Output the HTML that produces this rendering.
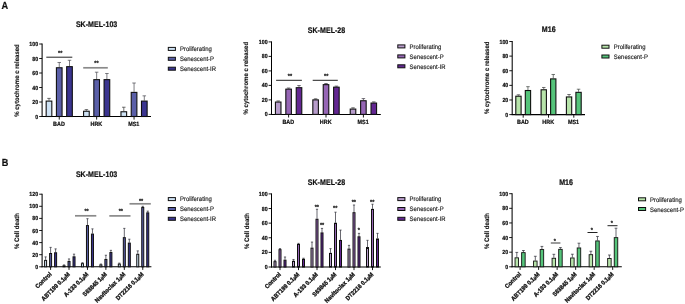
<!DOCTYPE html><html><head><meta charset="utf-8"><style>html,body{margin:0;padding:0;background:#fff}svg{display:block}text{font-family:"Liberation Sans",sans-serif;text-rendering:geometricPrecision}</style></head><body>
<svg width="685" height="304" viewBox="0 0 685 304">
<defs><filter id="bl" x="0" y="0" width="685" height="304" filterUnits="userSpaceOnUse"><feGaussianBlur stdDeviation="0.36"/></filter></defs>
<rect width="685" height="304" fill="#fff"/>
<g filter="url(#bl)">
<rect width="685" height="304" fill="#fff"/>
<text transform="translate(1.40 8.60) scale(0.05 0.0560)" font-size="184.0" font-weight="bold" text-anchor="start" fill="#111" stroke="#111" stroke-width="4.0">A</text>
<text transform="translate(1.80 166.00) scale(0.05 0.0560)" font-size="184.0" font-weight="bold" text-anchor="start" fill="#111" stroke="#111" stroke-width="4.0">B</text>
<line x1="42.10" y1="43.50" x2="42.10" y2="117.00" stroke="#000" stroke-width="1.05"/>
<line x1="41.60" y1="116.50" x2="151.00" y2="116.50" stroke="#000" stroke-width="1.05"/>
<line x1="39.20" y1="116.50" x2="42.10" y2="116.50" stroke="#000" stroke-width="0.9"/>
<text transform="translate(38.20 118.54) scale(0.05 0.0560)" font-size="106.0" font-weight="bold" text-anchor="end" fill="#111" stroke="#111" stroke-width="4.0">0</text>
<line x1="39.20" y1="102.00" x2="42.10" y2="102.00" stroke="#000" stroke-width="0.9"/>
<text transform="translate(38.20 104.04) scale(0.05 0.0560)" font-size="106.0" font-weight="bold" text-anchor="end" fill="#111" stroke="#111" stroke-width="4.0">20</text>
<line x1="39.20" y1="87.50" x2="42.10" y2="87.50" stroke="#000" stroke-width="0.9"/>
<text transform="translate(38.20 89.54) scale(0.05 0.0560)" font-size="106.0" font-weight="bold" text-anchor="end" fill="#111" stroke="#111" stroke-width="4.0">40</text>
<line x1="39.20" y1="73.00" x2="42.10" y2="73.00" stroke="#000" stroke-width="0.9"/>
<text transform="translate(38.20 75.04) scale(0.05 0.0560)" font-size="106.0" font-weight="bold" text-anchor="end" fill="#111" stroke="#111" stroke-width="4.0">60</text>
<line x1="39.20" y1="58.50" x2="42.10" y2="58.50" stroke="#000" stroke-width="0.9"/>
<text transform="translate(38.20 60.54) scale(0.05 0.0560)" font-size="106.0" font-weight="bold" text-anchor="end" fill="#111" stroke="#111" stroke-width="4.0">80</text>
<line x1="39.20" y1="44.00" x2="42.10" y2="44.00" stroke="#000" stroke-width="0.9"/>
<text transform="translate(38.20 46.04) scale(0.05 0.0560)" font-size="106.0" font-weight="bold" text-anchor="end" fill="#111" stroke="#111" stroke-width="4.0">100</text>
<line x1="49.00" y1="100.55" x2="49.00" y2="98.38" stroke="#333" stroke-width="0.7"/>
<line x1="47.25" y1="98.38" x2="50.75" y2="98.38" stroke="#333" stroke-width="0.7"/>
<rect x="46.17" y="101.10" width="5.65" height="15.40" fill="#cfe3f5" stroke="#111" stroke-width="1.1"/>
<line x1="59.25" y1="67.20" x2="59.25" y2="62.49" stroke="#46464e" stroke-width="0.7"/>
<line x1="57.50" y1="62.49" x2="61.00" y2="62.49" stroke="#46464e" stroke-width="0.7"/>
<rect x="56.42" y="67.75" width="5.65" height="48.75" fill="#5a5fa8" stroke="#111" stroke-width="1.1"/>
<line x1="69.50" y1="66.11" x2="69.50" y2="60.31" stroke="#46464e" stroke-width="0.7"/>
<line x1="67.75" y1="60.31" x2="71.25" y2="60.31" stroke="#46464e" stroke-width="0.7"/>
<rect x="66.67" y="66.66" width="5.65" height="49.84" fill="#3a3590" stroke="#111" stroke-width="1.1"/>
<line x1="59.25" y1="116.50" x2="59.25" y2="119.60" stroke="#000" stroke-width="0.9"/>
<text transform="translate(58.95 126.00) scale(0.05 0.0560)" font-size="109.0" font-weight="bold" text-anchor="middle" fill="#111" stroke="#111" stroke-width="4.0">BAD</text>
<line x1="86.40" y1="110.70" x2="86.40" y2="109.61" stroke="#333" stroke-width="0.7"/>
<line x1="84.65" y1="109.61" x2="88.15" y2="109.61" stroke="#333" stroke-width="0.7"/>
<rect x="83.58" y="111.25" width="5.65" height="5.25" fill="#cfe3f5" stroke="#111" stroke-width="1.1"/>
<line x1="96.65" y1="79.09" x2="96.65" y2="72.20" stroke="#46464e" stroke-width="0.7"/>
<line x1="94.90" y1="72.20" x2="98.40" y2="72.20" stroke="#46464e" stroke-width="0.7"/>
<rect x="93.83" y="79.64" width="5.65" height="36.86" fill="#5a5fa8" stroke="#111" stroke-width="1.1"/>
<line x1="106.90" y1="79.09" x2="106.90" y2="73.51" stroke="#46464e" stroke-width="0.7"/>
<line x1="105.15" y1="73.51" x2="108.65" y2="73.51" stroke="#46464e" stroke-width="0.7"/>
<rect x="104.08" y="79.64" width="5.65" height="36.86" fill="#3a3590" stroke="#111" stroke-width="1.1"/>
<line x1="96.65" y1="116.50" x2="96.65" y2="119.60" stroke="#000" stroke-width="0.9"/>
<text transform="translate(96.35 126.00) scale(0.05 0.0560)" font-size="109.0" font-weight="bold" text-anchor="middle" fill="#111" stroke="#111" stroke-width="4.0">HRK</text>
<line x1="123.80" y1="111.21" x2="123.80" y2="107.22" stroke="#333" stroke-width="0.7"/>
<line x1="122.05" y1="107.22" x2="125.55" y2="107.22" stroke="#333" stroke-width="0.7"/>
<rect x="120.98" y="111.76" width="5.65" height="4.74" fill="#cfe3f5" stroke="#111" stroke-width="1.1"/>
<line x1="134.05" y1="91.85" x2="134.05" y2="83.00" stroke="#46464e" stroke-width="0.7"/>
<line x1="132.30" y1="83.00" x2="135.80" y2="83.00" stroke="#46464e" stroke-width="0.7"/>
<rect x="131.23" y="92.40" width="5.65" height="24.10" fill="#5a5fa8" stroke="#111" stroke-width="1.1"/>
<line x1="144.30" y1="100.55" x2="144.30" y2="95.84" stroke="#46464e" stroke-width="0.7"/>
<line x1="142.55" y1="95.84" x2="146.05" y2="95.84" stroke="#46464e" stroke-width="0.7"/>
<rect x="141.48" y="101.10" width="5.65" height="15.40" fill="#3a3590" stroke="#111" stroke-width="1.1"/>
<line x1="134.05" y1="116.50" x2="134.05" y2="119.60" stroke="#000" stroke-width="0.9"/>
<text transform="translate(133.75 126.00) scale(0.05 0.0560)" font-size="109.0" font-weight="bold" text-anchor="middle" fill="#111" stroke="#111" stroke-width="4.0">MS1</text>
<text transform="translate(96.60 26.60) scale(0.05 0.0575)" font-size="142.0" font-weight="bold" text-anchor="middle" fill="#111" stroke="#111" stroke-width="4.0">SK-MEL-103</text>
<text transform="translate(19.20 80.50) rotate(-90) scale(0.05 0.0540)" font-size="121.0" font-weight="bold" text-anchor="middle" fill="#111" stroke="#111" stroke-width="2.4">% cytochrome c released</text>
<line x1="46.30" y1="57.20" x2="72.30" y2="57.20" stroke="#222" stroke-width="1.0"/>
<text transform="translate(60.20 54.80) scale(0.05 0.0560)" font-size="110.0" font-weight="bold" text-anchor="middle" fill="#222" stroke="#222" stroke-width="4.0">**</text>
<line x1="83.20" y1="67.80" x2="107.80" y2="67.80" stroke="#8a8a8a" stroke-width="1.7"/>
<text transform="translate(96.40 65.40) scale(0.05 0.0560)" font-size="110.0" font-weight="bold" text-anchor="middle" fill="#222" stroke="#222" stroke-width="4.0">**</text>
<rect x="168.30" y="47.40" width="7.10" height="3.00" fill="#cfe3f5" stroke="#111" stroke-width="1.0"/>
<text transform="translate(180.00 51.49) scale(0.05 0.0550)" font-size="119.0" font-weight="normal" text-anchor="start" fill="#1a1a1a" stroke="#1a1a1a" stroke-width="2.8">Proliferating</text>
<rect x="168.30" y="57.30" width="7.10" height="3.00" fill="#5a5fa8" stroke="#111" stroke-width="1.0"/>
<text transform="translate(180.00 61.39) scale(0.05 0.0550)" font-size="119.0" font-weight="normal" text-anchor="start" fill="#1a1a1a" stroke="#1a1a1a" stroke-width="2.8">Senescent-P</text>
<rect x="168.30" y="67.20" width="7.10" height="3.00" fill="#3a3590" stroke="#111" stroke-width="1.0"/>
<text transform="translate(180.00 71.29) scale(0.05 0.0550)" font-size="119.0" font-weight="normal" text-anchor="start" fill="#1a1a1a" stroke="#1a1a1a" stroke-width="2.8">Senescent-IR</text>
<line x1="271.50" y1="41.40" x2="271.50" y2="114.90" stroke="#000" stroke-width="1.05"/>
<line x1="271.00" y1="114.40" x2="380.80" y2="114.40" stroke="#000" stroke-width="1.05"/>
<line x1="268.60" y1="114.40" x2="271.50" y2="114.40" stroke="#000" stroke-width="0.9"/>
<text transform="translate(267.60 116.44) scale(0.05 0.0560)" font-size="106.0" font-weight="bold" text-anchor="end" fill="#111" stroke="#111" stroke-width="4.0">0</text>
<line x1="268.60" y1="99.90" x2="271.50" y2="99.90" stroke="#000" stroke-width="0.9"/>
<text transform="translate(267.60 101.94) scale(0.05 0.0560)" font-size="106.0" font-weight="bold" text-anchor="end" fill="#111" stroke="#111" stroke-width="4.0">20</text>
<line x1="268.60" y1="85.40" x2="271.50" y2="85.40" stroke="#000" stroke-width="0.9"/>
<text transform="translate(267.60 87.44) scale(0.05 0.0560)" font-size="106.0" font-weight="bold" text-anchor="end" fill="#111" stroke="#111" stroke-width="4.0">40</text>
<line x1="268.60" y1="70.90" x2="271.50" y2="70.90" stroke="#000" stroke-width="0.9"/>
<text transform="translate(267.60 72.94) scale(0.05 0.0560)" font-size="106.0" font-weight="bold" text-anchor="end" fill="#111" stroke="#111" stroke-width="4.0">60</text>
<line x1="268.60" y1="56.40" x2="271.50" y2="56.40" stroke="#000" stroke-width="0.9"/>
<text transform="translate(267.60 58.44) scale(0.05 0.0560)" font-size="106.0" font-weight="bold" text-anchor="end" fill="#111" stroke="#111" stroke-width="4.0">80</text>
<line x1="268.60" y1="41.90" x2="271.50" y2="41.90" stroke="#000" stroke-width="0.9"/>
<text transform="translate(267.60 43.94) scale(0.05 0.0560)" font-size="106.0" font-weight="bold" text-anchor="end" fill="#111" stroke="#111" stroke-width="4.0">100</text>
<line x1="278.20" y1="101.50" x2="278.20" y2="100.92" stroke="#333" stroke-width="0.7"/>
<line x1="276.45" y1="100.92" x2="279.95" y2="100.92" stroke="#333" stroke-width="0.7"/>
<rect x="275.43" y="102.05" width="5.55" height="12.36" fill="#b79ccb" stroke="#111" stroke-width="1.1"/>
<line x1="288.60" y1="88.59" x2="288.60" y2="88.01" stroke="#3a3440" stroke-width="0.7"/>
<line x1="286.85" y1="88.01" x2="290.35" y2="88.01" stroke="#3a3440" stroke-width="0.7"/>
<rect x="285.83" y="89.14" width="5.55" height="25.26" fill="#9666b5" stroke="#111" stroke-width="1.1"/>
<line x1="299.00" y1="87.14" x2="299.00" y2="85.55" stroke="#3a3440" stroke-width="0.7"/>
<line x1="297.25" y1="85.55" x2="300.75" y2="85.55" stroke="#3a3440" stroke-width="0.7"/>
<rect x="296.23" y="87.69" width="5.55" height="26.71" fill="#632792" stroke="#111" stroke-width="1.1"/>
<line x1="288.60" y1="114.40" x2="288.60" y2="117.50" stroke="#000" stroke-width="0.9"/>
<text transform="translate(288.30 123.70) scale(0.05 0.0560)" font-size="109.0" font-weight="bold" text-anchor="middle" fill="#111" stroke="#111" stroke-width="4.0">BAD</text>
<line x1="315.60" y1="99.32" x2="315.60" y2="98.81" stroke="#333" stroke-width="0.7"/>
<line x1="313.85" y1="98.81" x2="317.35" y2="98.81" stroke="#333" stroke-width="0.7"/>
<rect x="312.83" y="99.87" width="5.55" height="14.53" fill="#b79ccb" stroke="#111" stroke-width="1.1"/>
<line x1="326.00" y1="84.10" x2="326.00" y2="83.52" stroke="#3a3440" stroke-width="0.7"/>
<line x1="324.25" y1="83.52" x2="327.75" y2="83.52" stroke="#3a3440" stroke-width="0.7"/>
<rect x="323.23" y="84.65" width="5.55" height="29.75" fill="#9666b5" stroke="#111" stroke-width="1.1"/>
<line x1="336.40" y1="86.63" x2="336.40" y2="86.12" stroke="#3a3440" stroke-width="0.7"/>
<line x1="334.65" y1="86.12" x2="338.15" y2="86.12" stroke="#3a3440" stroke-width="0.7"/>
<rect x="333.62" y="87.18" width="5.55" height="27.22" fill="#632792" stroke="#111" stroke-width="1.1"/>
<line x1="326.00" y1="114.40" x2="326.00" y2="117.50" stroke="#000" stroke-width="0.9"/>
<text transform="translate(325.70 123.70) scale(0.05 0.0560)" font-size="109.0" font-weight="bold" text-anchor="middle" fill="#111" stroke="#111" stroke-width="4.0">HRK</text>
<line x1="353.00" y1="108.53" x2="353.00" y2="107.80" stroke="#333" stroke-width="0.7"/>
<line x1="351.25" y1="107.80" x2="354.75" y2="107.80" stroke="#333" stroke-width="0.7"/>
<rect x="350.23" y="109.08" width="5.55" height="5.32" fill="#b79ccb" stroke="#111" stroke-width="1.1"/>
<line x1="363.40" y1="100.19" x2="363.40" y2="98.59" stroke="#3a3440" stroke-width="0.7"/>
<line x1="361.65" y1="98.59" x2="365.15" y2="98.59" stroke="#3a3440" stroke-width="0.7"/>
<rect x="360.62" y="100.74" width="5.55" height="13.66" fill="#9666b5" stroke="#111" stroke-width="1.1"/>
<line x1="373.80" y1="102.51" x2="373.80" y2="101.86" stroke="#3a3440" stroke-width="0.7"/>
<line x1="372.05" y1="101.86" x2="375.55" y2="101.86" stroke="#3a3440" stroke-width="0.7"/>
<rect x="371.02" y="103.06" width="5.55" height="11.34" fill="#632792" stroke="#111" stroke-width="1.1"/>
<line x1="363.40" y1="114.40" x2="363.40" y2="117.50" stroke="#000" stroke-width="0.9"/>
<text transform="translate(363.10 123.70) scale(0.05 0.0560)" font-size="109.0" font-weight="bold" text-anchor="middle" fill="#111" stroke="#111" stroke-width="4.0">MS1</text>
<text transform="translate(326.50 32.70) scale(0.05 0.0575)" font-size="142.0" font-weight="bold" text-anchor="middle" fill="#111" stroke="#111" stroke-width="4.0">SK-MEL-28</text>
<text transform="translate(248.20 78.20) rotate(-90) scale(0.05 0.0540)" font-size="121.0" font-weight="bold" text-anchor="middle" fill="#111" stroke="#111" stroke-width="2.4">% cytochrome c released</text>
<line x1="276.10" y1="80.30" x2="301.90" y2="80.30" stroke="#222" stroke-width="1.0"/>
<text transform="translate(289.90 77.90) scale(0.05 0.0560)" font-size="110.0" font-weight="bold" text-anchor="middle" fill="#222" stroke="#222" stroke-width="4.0">**</text>
<line x1="312.70" y1="80.30" x2="337.80" y2="80.30" stroke="#222" stroke-width="1.0"/>
<text transform="translate(326.15 77.90) scale(0.05 0.0560)" font-size="110.0" font-weight="bold" text-anchor="middle" fill="#222" stroke="#222" stroke-width="4.0">**</text>
<rect x="397.80" y="44.90" width="7.10" height="3.00" fill="#b79ccb" stroke="#111" stroke-width="1.0"/>
<text transform="translate(409.60 48.99) scale(0.05 0.0550)" font-size="119.0" font-weight="normal" text-anchor="start" fill="#1a1a1a" stroke="#1a1a1a" stroke-width="2.8">Proliferating</text>
<rect x="397.80" y="54.90" width="7.10" height="3.00" fill="#9666b5" stroke="#111" stroke-width="1.0"/>
<text transform="translate(409.60 58.99) scale(0.05 0.0550)" font-size="119.0" font-weight="normal" text-anchor="start" fill="#1a1a1a" stroke="#1a1a1a" stroke-width="2.8">Senescent-P</text>
<rect x="397.80" y="64.80" width="7.10" height="3.00" fill="#632792" stroke="#111" stroke-width="1.0"/>
<text transform="translate(409.60 68.89) scale(0.05 0.0550)" font-size="119.0" font-weight="normal" text-anchor="start" fill="#1a1a1a" stroke="#1a1a1a" stroke-width="2.8">Senescent-IR</text>
<line x1="512.20" y1="41.00" x2="512.20" y2="115.10" stroke="#000" stroke-width="1.05"/>
<line x1="511.70" y1="114.60" x2="585.00" y2="114.60" stroke="#000" stroke-width="1.05"/>
<line x1="509.30" y1="114.60" x2="512.20" y2="114.60" stroke="#000" stroke-width="0.9"/>
<text transform="translate(508.30 116.64) scale(0.05 0.0560)" font-size="106.0" font-weight="bold" text-anchor="end" fill="#111" stroke="#111" stroke-width="4.0">0</text>
<line x1="509.30" y1="99.98" x2="512.20" y2="99.98" stroke="#000" stroke-width="0.9"/>
<text transform="translate(508.30 102.02) scale(0.05 0.0560)" font-size="106.0" font-weight="bold" text-anchor="end" fill="#111" stroke="#111" stroke-width="4.0">20</text>
<line x1="509.30" y1="85.36" x2="512.20" y2="85.36" stroke="#000" stroke-width="0.9"/>
<text transform="translate(508.30 87.40) scale(0.05 0.0560)" font-size="106.0" font-weight="bold" text-anchor="end" fill="#111" stroke="#111" stroke-width="4.0">40</text>
<line x1="509.30" y1="70.74" x2="512.20" y2="70.74" stroke="#000" stroke-width="0.9"/>
<text transform="translate(508.30 72.78) scale(0.05 0.0560)" font-size="106.0" font-weight="bold" text-anchor="end" fill="#111" stroke="#111" stroke-width="4.0">60</text>
<line x1="509.30" y1="56.12" x2="512.20" y2="56.12" stroke="#000" stroke-width="0.9"/>
<text transform="translate(508.30 58.16) scale(0.05 0.0560)" font-size="106.0" font-weight="bold" text-anchor="end" fill="#111" stroke="#111" stroke-width="4.0">80</text>
<line x1="509.30" y1="41.50" x2="512.20" y2="41.50" stroke="#000" stroke-width="0.9"/>
<text transform="translate(508.30 43.54) scale(0.05 0.0560)" font-size="106.0" font-weight="bold" text-anchor="end" fill="#111" stroke="#111" stroke-width="4.0">100</text>
<line x1="518.45" y1="95.67" x2="518.45" y2="94.79" stroke="#3a3a3a" stroke-width="0.7"/>
<line x1="516.70" y1="94.79" x2="520.20" y2="94.79" stroke="#3a3a3a" stroke-width="0.7"/>
<rect x="515.80" y="96.22" width="5.30" height="18.38" fill="#b7e4aa" stroke="#111" stroke-width="1.1"/>
<line x1="527.95" y1="89.97" x2="527.95" y2="86.68" stroke="#3a403c" stroke-width="0.7"/>
<line x1="526.20" y1="86.68" x2="529.70" y2="86.68" stroke="#3a403c" stroke-width="0.7"/>
<rect x="525.30" y="90.52" width="5.30" height="24.08" fill="#55c47a" stroke="#111" stroke-width="1.1"/>
<line x1="523.20" y1="114.60" x2="523.20" y2="117.70" stroke="#000" stroke-width="0.9"/>
<text transform="translate(522.90 123.60) scale(0.05 0.0560)" font-size="109.0" font-weight="bold" text-anchor="middle" fill="#111" stroke="#111" stroke-width="4.0">BAD</text>
<line x1="543.75" y1="89.23" x2="543.75" y2="87.48" stroke="#3a3a3a" stroke-width="0.7"/>
<line x1="542.00" y1="87.48" x2="545.50" y2="87.48" stroke="#3a3a3a" stroke-width="0.7"/>
<rect x="541.10" y="89.78" width="5.30" height="24.82" fill="#b7e4aa" stroke="#111" stroke-width="1.1"/>
<line x1="553.25" y1="78.34" x2="553.25" y2="74.47" stroke="#3a403c" stroke-width="0.7"/>
<line x1="551.50" y1="74.47" x2="555.00" y2="74.47" stroke="#3a403c" stroke-width="0.7"/>
<rect x="550.60" y="78.89" width="5.30" height="35.71" fill="#55c47a" stroke="#111" stroke-width="1.1"/>
<line x1="548.50" y1="114.60" x2="548.50" y2="117.70" stroke="#000" stroke-width="0.9"/>
<text transform="translate(548.20 123.60) scale(0.05 0.0560)" font-size="109.0" font-weight="bold" text-anchor="middle" fill="#111" stroke="#111" stroke-width="4.0">HRK</text>
<line x1="569.05" y1="96.40" x2="569.05" y2="94.50" stroke="#3a3a3a" stroke-width="0.7"/>
<line x1="567.30" y1="94.50" x2="570.80" y2="94.50" stroke="#3a3a3a" stroke-width="0.7"/>
<rect x="566.40" y="96.95" width="5.30" height="17.65" fill="#b7e4aa" stroke="#111" stroke-width="1.1"/>
<line x1="578.55" y1="91.79" x2="578.55" y2="89.23" stroke="#3a403c" stroke-width="0.7"/>
<line x1="576.80" y1="89.23" x2="580.30" y2="89.23" stroke="#3a403c" stroke-width="0.7"/>
<rect x="575.90" y="92.34" width="5.30" height="22.26" fill="#55c47a" stroke="#111" stroke-width="1.1"/>
<line x1="573.80" y1="114.60" x2="573.80" y2="117.70" stroke="#000" stroke-width="0.9"/>
<text transform="translate(573.50 123.60) scale(0.05 0.0560)" font-size="109.0" font-weight="bold" text-anchor="middle" fill="#111" stroke="#111" stroke-width="4.0">MS1</text>
<text transform="translate(548.70 32.20) scale(0.05 0.0575)" font-size="142.0" font-weight="bold" text-anchor="middle" fill="#111" stroke="#111" stroke-width="4.0">M16</text>
<text transform="translate(488.80 77.80) rotate(-90) scale(0.05 0.0540)" font-size="121.0" font-weight="bold" text-anchor="middle" fill="#111" stroke="#111" stroke-width="2.4">% cytochrome c released</text>
<rect x="601.90" y="45.20" width="7.10" height="3.00" fill="#b7e4aa" stroke="#111" stroke-width="1.0"/>
<text transform="translate(613.80 48.99) scale(0.05 0.0550)" font-size="119.0" font-weight="normal" text-anchor="start" fill="#1a1a1a" stroke="#1a1a1a" stroke-width="2.8">Proliferating</text>
<rect x="601.90" y="55.00" width="7.10" height="3.00" fill="#55c47a" stroke="#111" stroke-width="1.0"/>
<text transform="translate(613.80 58.79) scale(0.05 0.0550)" font-size="119.0" font-weight="normal" text-anchor="start" fill="#1a1a1a" stroke="#1a1a1a" stroke-width="2.8">Senescent-P</text>
<line x1="42.10" y1="193.70" x2="42.10" y2="267.30" stroke="#000" stroke-width="1.05"/>
<line x1="41.60" y1="266.80" x2="151.40" y2="266.80" stroke="#000" stroke-width="1.05"/>
<line x1="39.20" y1="266.80" x2="42.10" y2="266.80" stroke="#000" stroke-width="0.9"/>
<text transform="translate(38.20 268.84) scale(0.05 0.0560)" font-size="106.0" font-weight="bold" text-anchor="end" fill="#111" stroke="#111" stroke-width="4.0">0</text>
<line x1="39.20" y1="254.70" x2="42.10" y2="254.70" stroke="#000" stroke-width="0.9"/>
<text transform="translate(38.20 256.74) scale(0.05 0.0560)" font-size="106.0" font-weight="bold" text-anchor="end" fill="#111" stroke="#111" stroke-width="4.0">20</text>
<line x1="39.20" y1="242.60" x2="42.10" y2="242.60" stroke="#000" stroke-width="0.9"/>
<text transform="translate(38.20 244.64) scale(0.05 0.0560)" font-size="106.0" font-weight="bold" text-anchor="end" fill="#111" stroke="#111" stroke-width="4.0">40</text>
<line x1="39.20" y1="230.50" x2="42.10" y2="230.50" stroke="#000" stroke-width="0.9"/>
<text transform="translate(38.20 232.54) scale(0.05 0.0560)" font-size="106.0" font-weight="bold" text-anchor="end" fill="#111" stroke="#111" stroke-width="4.0">60</text>
<line x1="39.20" y1="218.40" x2="42.10" y2="218.40" stroke="#000" stroke-width="0.9"/>
<text transform="translate(38.20 220.44) scale(0.05 0.0560)" font-size="106.0" font-weight="bold" text-anchor="end" fill="#111" stroke="#111" stroke-width="4.0">80</text>
<line x1="39.20" y1="206.30" x2="42.10" y2="206.30" stroke="#000" stroke-width="0.9"/>
<text transform="translate(38.20 208.34) scale(0.05 0.0560)" font-size="106.0" font-weight="bold" text-anchor="end" fill="#111" stroke="#111" stroke-width="4.0">100</text>
<line x1="39.20" y1="194.20" x2="42.10" y2="194.20" stroke="#000" stroke-width="0.9"/>
<text transform="translate(38.20 196.24) scale(0.05 0.0560)" font-size="106.0" font-weight="bold" text-anchor="end" fill="#111" stroke="#111" stroke-width="4.0">120</text>
<line x1="45.60" y1="259.90" x2="45.60" y2="256.88" stroke="#2a2a34" stroke-width="0.7"/>
<line x1="44.50" y1="256.88" x2="46.70" y2="256.88" stroke="#2a2a34" stroke-width="0.7"/>
<rect x="44.60" y="260.40" width="2.00" height="6.40" fill="#cfe3f5" stroke="#111" stroke-width="1.0"/>
<line x1="50.60" y1="253.01" x2="50.60" y2="247.38" stroke="#2a2a34" stroke-width="0.7"/>
<line x1="49.50" y1="247.38" x2="51.70" y2="247.38" stroke="#2a2a34" stroke-width="0.7"/>
<rect x="49.60" y="253.51" width="2.00" height="13.29" fill="#5a5fa8" stroke="#111" stroke-width="1.0"/>
<line x1="55.60" y1="252.28" x2="55.60" y2="248.89" stroke="#2a2a34" stroke-width="0.7"/>
<line x1="54.50" y1="248.89" x2="56.70" y2="248.89" stroke="#2a2a34" stroke-width="0.7"/>
<rect x="54.60" y="252.78" width="2.00" height="14.02" fill="#3a3590" stroke="#111" stroke-width="1.0"/>
<line x1="50.60" y1="266.80" x2="50.60" y2="269.90" stroke="#000" stroke-width="0.9"/>
<text transform="translate(52.00 274.60) rotate(-45) scale(0.05 0.0540)" font-size="113.0" font-weight="bold" text-anchor="end" fill="#111" stroke="#111" stroke-width="6.0">Control</text>
<line x1="64.03" y1="265.29" x2="64.03" y2="264.92" stroke="#2a2a34" stroke-width="0.7"/>
<line x1="62.93" y1="264.92" x2="65.13" y2="264.92" stroke="#2a2a34" stroke-width="0.7"/>
<rect x="63.03" y="265.79" width="2.00" height="1.01" fill="#cfe3f5" stroke="#111" stroke-width="1.0"/>
<line x1="69.03" y1="260.93" x2="69.03" y2="258.94" stroke="#2a2a34" stroke-width="0.7"/>
<line x1="67.93" y1="258.94" x2="70.13" y2="258.94" stroke="#2a2a34" stroke-width="0.7"/>
<rect x="68.03" y="261.43" width="2.00" height="5.37" fill="#5a5fa8" stroke="#111" stroke-width="1.0"/>
<line x1="74.03" y1="256.33" x2="74.03" y2="254.16" stroke="#2a2a34" stroke-width="0.7"/>
<line x1="72.93" y1="254.16" x2="75.13" y2="254.16" stroke="#2a2a34" stroke-width="0.7"/>
<rect x="73.03" y="256.83" width="2.00" height="9.97" fill="#3a3590" stroke="#111" stroke-width="1.0"/>
<line x1="69.03" y1="266.80" x2="69.03" y2="269.90" stroke="#000" stroke-width="0.9"/>
<text transform="translate(70.43 274.60) rotate(-45) scale(0.05 0.0540)" font-size="113.0" font-weight="bold" text-anchor="end" fill="#111" stroke="#111" stroke-width="6.0">ABT199 0.1<tspan font-size="85">µ</tspan>M</text>
<line x1="82.46" y1="263.17" x2="82.46" y2="262.69" stroke="#2a2a34" stroke-width="0.7"/>
<line x1="81.36" y1="262.69" x2="83.56" y2="262.69" stroke="#2a2a34" stroke-width="0.7"/>
<rect x="81.46" y="263.67" width="2.00" height="3.13" fill="#cfe3f5" stroke="#111" stroke-width="1.0"/>
<line x1="87.46" y1="225.06" x2="87.46" y2="218.70" stroke="#2a2a34" stroke-width="0.7"/>
<line x1="86.36" y1="218.70" x2="88.56" y2="218.70" stroke="#2a2a34" stroke-width="0.7"/>
<rect x="86.46" y="225.56" width="2.00" height="41.25" fill="#5a5fa8" stroke="#111" stroke-width="1.0"/>
<line x1="92.46" y1="233.59" x2="92.46" y2="228.87" stroke="#2a2a34" stroke-width="0.7"/>
<line x1="91.36" y1="228.87" x2="93.56" y2="228.87" stroke="#2a2a34" stroke-width="0.7"/>
<rect x="91.46" y="234.09" width="2.00" height="32.71" fill="#3a3590" stroke="#111" stroke-width="1.0"/>
<line x1="87.46" y1="266.80" x2="87.46" y2="269.90" stroke="#000" stroke-width="0.9"/>
<text transform="translate(88.86 274.60) rotate(-45) scale(0.05 0.0540)" font-size="113.0" font-weight="bold" text-anchor="end" fill="#111" stroke="#111" stroke-width="6.0">A-133 0.1<tspan font-size="85">µ</tspan>M</text>
<line x1="100.89" y1="264.38" x2="100.89" y2="264.02" stroke="#2a2a34" stroke-width="0.7"/>
<line x1="99.79" y1="264.02" x2="101.99" y2="264.02" stroke="#2a2a34" stroke-width="0.7"/>
<rect x="99.89" y="264.88" width="2.00" height="1.92" fill="#cfe3f5" stroke="#111" stroke-width="1.0"/>
<line x1="105.89" y1="258.94" x2="105.89" y2="255.24" stroke="#2a2a34" stroke-width="0.7"/>
<line x1="104.79" y1="255.24" x2="106.99" y2="255.24" stroke="#2a2a34" stroke-width="0.7"/>
<rect x="104.89" y="259.44" width="2.00" height="7.37" fill="#5a5fa8" stroke="#111" stroke-width="1.0"/>
<line x1="110.89" y1="252.04" x2="110.89" y2="250.34" stroke="#2a2a34" stroke-width="0.7"/>
<line x1="109.79" y1="250.34" x2="111.99" y2="250.34" stroke="#2a2a34" stroke-width="0.7"/>
<rect x="109.89" y="252.54" width="2.00" height="14.26" fill="#3a3590" stroke="#111" stroke-width="1.0"/>
<line x1="105.89" y1="266.80" x2="105.89" y2="269.90" stroke="#000" stroke-width="0.9"/>
<text transform="translate(107.29 274.60) rotate(-45) scale(0.05 0.0540)" font-size="113.0" font-weight="bold" text-anchor="end" fill="#111" stroke="#111" stroke-width="6.0">S63845 1<tspan font-size="85">µ</tspan>M</text>
<line x1="119.32" y1="263.59" x2="119.32" y2="263.11" stroke="#2a2a34" stroke-width="0.7"/>
<line x1="118.22" y1="263.11" x2="120.42" y2="263.11" stroke="#2a2a34" stroke-width="0.7"/>
<rect x="118.32" y="264.09" width="2.00" height="2.71" fill="#cfe3f5" stroke="#111" stroke-width="1.0"/>
<line x1="124.32" y1="237.16" x2="124.32" y2="228.38" stroke="#2a2a34" stroke-width="0.7"/>
<line x1="123.22" y1="228.38" x2="125.42" y2="228.38" stroke="#2a2a34" stroke-width="0.7"/>
<rect x="123.32" y="237.66" width="2.00" height="29.15" fill="#5a5fa8" stroke="#111" stroke-width="1.0"/>
<line x1="129.32" y1="242.60" x2="129.32" y2="239.21" stroke="#2a2a34" stroke-width="0.7"/>
<line x1="128.22" y1="239.21" x2="130.42" y2="239.21" stroke="#2a2a34" stroke-width="0.7"/>
<rect x="128.32" y="243.10" width="2.00" height="23.70" fill="#3a3590" stroke="#111" stroke-width="1.0"/>
<line x1="124.32" y1="266.80" x2="124.32" y2="269.90" stroke="#000" stroke-width="0.9"/>
<text transform="translate(125.72 274.60) rotate(-45) scale(0.05 0.0540)" font-size="113.0" font-weight="bold" text-anchor="end" fill="#111" stroke="#111" stroke-width="6.0">Navitoclax 1<tspan font-size="85">µ</tspan>M</text>
<line x1="137.75" y1="253.79" x2="137.75" y2="250.89" stroke="#2a2a34" stroke-width="0.7"/>
<line x1="136.65" y1="250.89" x2="138.85" y2="250.89" stroke="#2a2a34" stroke-width="0.7"/>
<rect x="136.75" y="254.29" width="2.00" height="12.51" fill="#cfe3f5" stroke="#111" stroke-width="1.0"/>
<line x1="142.75" y1="207.03" x2="142.75" y2="206.30" stroke="#2a2a34" stroke-width="0.7"/>
<line x1="141.65" y1="206.30" x2="143.85" y2="206.30" stroke="#2a2a34" stroke-width="0.7"/>
<rect x="141.75" y="207.53" width="2.00" height="59.27" fill="#5a5fa8" stroke="#111" stroke-width="1.0"/>
<line x1="147.75" y1="212.35" x2="147.75" y2="211.14" stroke="#2a2a34" stroke-width="0.7"/>
<line x1="146.65" y1="211.14" x2="148.85" y2="211.14" stroke="#2a2a34" stroke-width="0.7"/>
<rect x="146.75" y="212.85" width="2.00" height="53.95" fill="#3a3590" stroke="#111" stroke-width="1.0"/>
<line x1="142.75" y1="266.80" x2="142.75" y2="269.90" stroke="#000" stroke-width="0.9"/>
<text transform="translate(144.15 274.60) rotate(-45) scale(0.05 0.0540)" font-size="113.0" font-weight="bold" text-anchor="end" fill="#111" stroke="#111" stroke-width="6.0">DT2216 0.1<tspan font-size="85">µ</tspan>M</text>
<text transform="translate(96.60 176.80) scale(0.05 0.0575)" font-size="142.0" font-weight="bold" text-anchor="middle" fill="#111" stroke="#111" stroke-width="4.0">SK-MEL-103</text>
<text transform="translate(19.20 231.00) rotate(-90) scale(0.05 0.0540)" font-size="121.0" font-weight="bold" text-anchor="middle" fill="#111" stroke="#111" stroke-width="2.4">% Cell death</text>
<line x1="75.00" y1="215.80" x2="96.30" y2="215.80" stroke="#8a8a8a" stroke-width="1.7"/>
<text transform="translate(86.55 213.40) scale(0.05 0.0560)" font-size="110.0" font-weight="bold" text-anchor="middle" fill="#222" stroke="#222" stroke-width="4.0">**</text>
<line x1="109.30" y1="215.90" x2="130.50" y2="215.90" stroke="#8a8a8a" stroke-width="1.7"/>
<text transform="translate(120.80 213.20) scale(0.05 0.0560)" font-size="110.0" font-weight="bold" text-anchor="middle" fill="#222" stroke="#222" stroke-width="4.0">**</text>
<line x1="129.50" y1="203.80" x2="150.80" y2="203.80" stroke="#8a8a8a" stroke-width="1.7"/>
<text transform="translate(141.05 203.20) scale(0.05 0.0560)" font-size="110.0" font-weight="bold" text-anchor="middle" fill="#222" stroke="#222" stroke-width="4.0">**</text>
<rect x="168.30" y="197.60" width="7.10" height="3.00" fill="#cfe3f5" stroke="#111" stroke-width="1.0"/>
<text transform="translate(180.00 201.19) scale(0.05 0.0550)" font-size="119.0" font-weight="normal" text-anchor="start" fill="#1a1a1a" stroke="#1a1a1a" stroke-width="2.8">Proliferating</text>
<rect x="168.30" y="207.50" width="7.10" height="3.00" fill="#5a5fa8" stroke="#111" stroke-width="1.0"/>
<text transform="translate(180.00 211.09) scale(0.05 0.0550)" font-size="119.0" font-weight="normal" text-anchor="start" fill="#1a1a1a" stroke="#1a1a1a" stroke-width="2.8">Senescent-P</text>
<rect x="168.30" y="217.30" width="7.10" height="3.00" fill="#3a3590" stroke="#111" stroke-width="1.0"/>
<text transform="translate(180.00 220.89) scale(0.05 0.0550)" font-size="119.0" font-weight="normal" text-anchor="start" fill="#1a1a1a" stroke="#1a1a1a" stroke-width="2.8">Senescent-IR</text>
<line x1="271.50" y1="193.40" x2="271.50" y2="267.50" stroke="#000" stroke-width="1.05"/>
<line x1="271.00" y1="267.00" x2="380.80" y2="267.00" stroke="#000" stroke-width="1.05"/>
<line x1="268.60" y1="267.00" x2="271.50" y2="267.00" stroke="#000" stroke-width="0.9"/>
<text transform="translate(267.60 269.04) scale(0.05 0.0560)" font-size="106.0" font-weight="bold" text-anchor="end" fill="#111" stroke="#111" stroke-width="4.0">0</text>
<line x1="268.60" y1="252.38" x2="271.50" y2="252.38" stroke="#000" stroke-width="0.9"/>
<text transform="translate(267.60 254.42) scale(0.05 0.0560)" font-size="106.0" font-weight="bold" text-anchor="end" fill="#111" stroke="#111" stroke-width="4.0">20</text>
<line x1="268.60" y1="237.76" x2="271.50" y2="237.76" stroke="#000" stroke-width="0.9"/>
<text transform="translate(267.60 239.80) scale(0.05 0.0560)" font-size="106.0" font-weight="bold" text-anchor="end" fill="#111" stroke="#111" stroke-width="4.0">40</text>
<line x1="268.60" y1="223.14" x2="271.50" y2="223.14" stroke="#000" stroke-width="0.9"/>
<text transform="translate(267.60 225.18) scale(0.05 0.0560)" font-size="106.0" font-weight="bold" text-anchor="end" fill="#111" stroke="#111" stroke-width="4.0">60</text>
<line x1="268.60" y1="208.52" x2="271.50" y2="208.52" stroke="#000" stroke-width="0.9"/>
<text transform="translate(267.60 210.56) scale(0.05 0.0560)" font-size="106.0" font-weight="bold" text-anchor="end" fill="#111" stroke="#111" stroke-width="4.0">80</text>
<line x1="268.60" y1="193.90" x2="271.50" y2="193.90" stroke="#000" stroke-width="0.9"/>
<text transform="translate(267.60 195.94) scale(0.05 0.0560)" font-size="106.0" font-weight="bold" text-anchor="end" fill="#111" stroke="#111" stroke-width="4.0">100</text>
<line x1="275.00" y1="261.15" x2="275.00" y2="260.27" stroke="#2a2a34" stroke-width="0.7"/>
<line x1="273.90" y1="260.27" x2="276.10" y2="260.27" stroke="#2a2a34" stroke-width="0.7"/>
<rect x="274.00" y="261.65" width="2.00" height="5.35" fill="#b79ccb" stroke="#111" stroke-width="1.0"/>
<line x1="280.00" y1="249.16" x2="280.00" y2="248.58" stroke="#2a2a34" stroke-width="0.7"/>
<line x1="278.90" y1="248.58" x2="281.10" y2="248.58" stroke="#2a2a34" stroke-width="0.7"/>
<rect x="279.00" y="249.66" width="2.00" height="17.34" fill="#9666b5" stroke="#111" stroke-width="1.0"/>
<line x1="285.00" y1="259.69" x2="285.00" y2="256.99" stroke="#2a2a34" stroke-width="0.7"/>
<line x1="283.90" y1="256.99" x2="286.10" y2="256.99" stroke="#2a2a34" stroke-width="0.7"/>
<rect x="284.00" y="260.19" width="2.00" height="6.81" fill="#632792" stroke="#111" stroke-width="1.0"/>
<line x1="280.00" y1="267.00" x2="280.00" y2="270.10" stroke="#000" stroke-width="0.9"/>
<text transform="translate(281.40 274.80) rotate(-45) scale(0.05 0.0540)" font-size="113.0" font-weight="bold" text-anchor="end" fill="#111" stroke="#111" stroke-width="6.0">Control</text>
<line x1="293.50" y1="260.79" x2="293.50" y2="259.47" stroke="#2a2a34" stroke-width="0.7"/>
<line x1="292.40" y1="259.47" x2="294.60" y2="259.47" stroke="#2a2a34" stroke-width="0.7"/>
<rect x="292.50" y="261.29" width="2.00" height="5.71" fill="#b79ccb" stroke="#111" stroke-width="1.0"/>
<line x1="298.50" y1="243.97" x2="298.50" y2="243.39" stroke="#2a2a34" stroke-width="0.7"/>
<line x1="297.40" y1="243.39" x2="299.60" y2="243.39" stroke="#2a2a34" stroke-width="0.7"/>
<rect x="297.50" y="244.47" width="2.00" height="22.53" fill="#9666b5" stroke="#111" stroke-width="1.0"/>
<line x1="303.50" y1="258.81" x2="303.50" y2="258.23" stroke="#2a2a34" stroke-width="0.7"/>
<line x1="302.40" y1="258.23" x2="304.60" y2="258.23" stroke="#2a2a34" stroke-width="0.7"/>
<rect x="302.50" y="259.31" width="2.00" height="7.69" fill="#632792" stroke="#111" stroke-width="1.0"/>
<line x1="298.50" y1="267.00" x2="298.50" y2="270.10" stroke="#000" stroke-width="0.9"/>
<text transform="translate(299.90 274.80) rotate(-45) scale(0.05 0.0540)" font-size="113.0" font-weight="bold" text-anchor="end" fill="#111" stroke="#111" stroke-width="6.0">ABT199 0.1<tspan font-size="85">µ</tspan>M</text>
<line x1="312.00" y1="247.63" x2="312.00" y2="242.07" stroke="#2a2a34" stroke-width="0.7"/>
<line x1="310.90" y1="242.07" x2="313.10" y2="242.07" stroke="#2a2a34" stroke-width="0.7"/>
<rect x="311.00" y="248.13" width="2.00" height="18.87" fill="#b79ccb" stroke="#111" stroke-width="1.0"/>
<line x1="317.00" y1="218.75" x2="317.00" y2="209.25" stroke="#2a2a34" stroke-width="0.7"/>
<line x1="315.90" y1="209.25" x2="318.10" y2="209.25" stroke="#2a2a34" stroke-width="0.7"/>
<rect x="316.00" y="219.25" width="2.00" height="47.75" fill="#9666b5" stroke="#111" stroke-width="1.0"/>
<line x1="322.00" y1="232.42" x2="322.00" y2="228.40" stroke="#2a2a34" stroke-width="0.7"/>
<line x1="320.90" y1="228.40" x2="323.10" y2="228.40" stroke="#2a2a34" stroke-width="0.7"/>
<rect x="321.00" y="232.92" width="2.00" height="34.08" fill="#632792" stroke="#111" stroke-width="1.0"/>
<line x1="317.00" y1="267.00" x2="317.00" y2="270.10" stroke="#000" stroke-width="0.9"/>
<text transform="translate(318.40 274.80) rotate(-45) scale(0.05 0.0540)" font-size="113.0" font-weight="bold" text-anchor="end" fill="#111" stroke="#111" stroke-width="6.0">A-133 0.1<tspan font-size="85">µ</tspan>M</text>
<line x1="330.50" y1="252.89" x2="330.50" y2="248.65" stroke="#2a2a34" stroke-width="0.7"/>
<line x1="329.40" y1="248.65" x2="331.60" y2="248.65" stroke="#2a2a34" stroke-width="0.7"/>
<rect x="329.50" y="253.39" width="2.00" height="13.61" fill="#b79ccb" stroke="#111" stroke-width="1.0"/>
<line x1="335.50" y1="222.77" x2="335.50" y2="212.18" stroke="#2a2a34" stroke-width="0.7"/>
<line x1="334.40" y1="212.18" x2="336.60" y2="212.18" stroke="#2a2a34" stroke-width="0.7"/>
<rect x="334.50" y="223.27" width="2.00" height="43.73" fill="#9666b5" stroke="#111" stroke-width="1.0"/>
<line x1="340.50" y1="239.95" x2="340.50" y2="230.08" stroke="#2a2a34" stroke-width="0.7"/>
<line x1="339.40" y1="230.08" x2="341.60" y2="230.08" stroke="#2a2a34" stroke-width="0.7"/>
<rect x="339.50" y="240.45" width="2.00" height="26.55" fill="#632792" stroke="#111" stroke-width="1.0"/>
<line x1="335.50" y1="267.00" x2="335.50" y2="270.10" stroke="#000" stroke-width="0.9"/>
<text transform="translate(336.90 274.80) rotate(-45) scale(0.05 0.0540)" font-size="113.0" font-weight="bold" text-anchor="end" fill="#111" stroke="#111" stroke-width="6.0">S63845 1<tspan font-size="85">µ</tspan>M</text>
<line x1="349.00" y1="248.58" x2="349.00" y2="245.36" stroke="#2a2a34" stroke-width="0.7"/>
<line x1="347.90" y1="245.36" x2="350.10" y2="245.36" stroke="#2a2a34" stroke-width="0.7"/>
<rect x="348.00" y="249.08" width="2.00" height="17.92" fill="#b79ccb" stroke="#111" stroke-width="1.0"/>
<line x1="354.00" y1="212.18" x2="354.00" y2="205.01" stroke="#2a2a34" stroke-width="0.7"/>
<line x1="352.90" y1="205.01" x2="355.10" y2="205.01" stroke="#2a2a34" stroke-width="0.7"/>
<rect x="353.00" y="212.68" width="2.00" height="54.32" fill="#9666b5" stroke="#111" stroke-width="1.0"/>
<line x1="359.00" y1="236.30" x2="359.00" y2="233.37" stroke="#2a2a34" stroke-width="0.7"/>
<line x1="357.90" y1="233.37" x2="360.10" y2="233.37" stroke="#2a2a34" stroke-width="0.7"/>
<rect x="358.00" y="236.80" width="2.00" height="30.20" fill="#632792" stroke="#111" stroke-width="1.0"/>
<line x1="354.00" y1="267.00" x2="354.00" y2="270.10" stroke="#000" stroke-width="0.9"/>
<text transform="translate(355.40 274.80) rotate(-45) scale(0.05 0.0540)" font-size="113.0" font-weight="bold" text-anchor="end" fill="#111" stroke="#111" stroke-width="6.0">Navitoclax 1<tspan font-size="85">µ</tspan>M</text>
<line x1="367.50" y1="247.04" x2="367.50" y2="240.32" stroke="#2a2a34" stroke-width="0.7"/>
<line x1="366.40" y1="240.32" x2="368.60" y2="240.32" stroke="#2a2a34" stroke-width="0.7"/>
<rect x="366.50" y="247.54" width="2.00" height="19.46" fill="#b79ccb" stroke="#111" stroke-width="1.0"/>
<line x1="372.50" y1="208.89" x2="372.50" y2="204.21" stroke="#2a2a34" stroke-width="0.7"/>
<line x1="371.40" y1="204.21" x2="373.60" y2="204.21" stroke="#2a2a34" stroke-width="0.7"/>
<rect x="371.50" y="209.39" width="2.00" height="57.61" fill="#9666b5" stroke="#111" stroke-width="1.0"/>
<line x1="377.50" y1="238.49" x2="377.50" y2="233.37" stroke="#2a2a34" stroke-width="0.7"/>
<line x1="376.40" y1="233.37" x2="378.60" y2="233.37" stroke="#2a2a34" stroke-width="0.7"/>
<rect x="376.50" y="238.99" width="2.00" height="28.01" fill="#632792" stroke="#111" stroke-width="1.0"/>
<line x1="372.50" y1="267.00" x2="372.50" y2="270.10" stroke="#000" stroke-width="0.9"/>
<text transform="translate(373.90 274.80) rotate(-45) scale(0.05 0.0540)" font-size="113.0" font-weight="bold" text-anchor="end" fill="#111" stroke="#111" stroke-width="6.0">DT2216 0.1<tspan font-size="85">µ</tspan>M</text>
<text transform="translate(326.50 184.90) scale(0.05 0.0575)" font-size="142.0" font-weight="bold" text-anchor="middle" fill="#111" stroke="#111" stroke-width="4.0">SK-MEL-28</text>
<text transform="translate(248.60 231.00) rotate(-90) scale(0.05 0.0540)" font-size="121.0" font-weight="bold" text-anchor="middle" fill="#111" stroke="#111" stroke-width="2.4">% Cell death</text>
<text transform="translate(316.80 209.20) scale(0.05 0.0560)" font-size="110.0" font-weight="bold" text-anchor="middle" fill="#222" stroke="#222" stroke-width="4.0">**</text>
<text transform="translate(322.10 226.60) scale(0.05 0.0560)" font-size="110.0" font-weight="bold" text-anchor="middle" fill="#222" stroke="#222" stroke-width="4.0">**</text>
<text transform="translate(335.20 210.00) scale(0.05 0.0560)" font-size="110.0" font-weight="bold" text-anchor="middle" fill="#222" stroke="#222" stroke-width="4.0">**</text>
<text transform="translate(353.80 203.80) scale(0.05 0.0560)" font-size="110.0" font-weight="bold" text-anchor="middle" fill="#222" stroke="#222" stroke-width="4.0">**</text>
<text transform="translate(358.90 232.40) scale(0.05 0.0560)" font-size="110.0" font-weight="bold" text-anchor="middle" fill="#222" stroke="#222" stroke-width="4.0">*</text>
<text transform="translate(372.20 203.80) scale(0.05 0.0560)" font-size="110.0" font-weight="bold" text-anchor="middle" fill="#222" stroke="#222" stroke-width="4.0">**</text>
<rect x="397.80" y="197.60" width="7.10" height="3.00" fill="#b79ccb" stroke="#111" stroke-width="1.0"/>
<text transform="translate(409.60 201.19) scale(0.05 0.0550)" font-size="119.0" font-weight="normal" text-anchor="start" fill="#1a1a1a" stroke="#1a1a1a" stroke-width="2.8">Proliferating</text>
<rect x="397.80" y="207.50" width="7.10" height="3.00" fill="#9666b5" stroke="#111" stroke-width="1.0"/>
<text transform="translate(409.60 211.09) scale(0.05 0.0550)" font-size="119.0" font-weight="normal" text-anchor="start" fill="#1a1a1a" stroke="#1a1a1a" stroke-width="2.8">Senescent-P</text>
<rect x="397.80" y="217.30" width="7.10" height="3.00" fill="#632792" stroke="#111" stroke-width="1.0"/>
<text transform="translate(409.60 220.89) scale(0.05 0.0550)" font-size="119.0" font-weight="normal" text-anchor="start" fill="#1a1a1a" stroke="#1a1a1a" stroke-width="2.8">Senescent-IR</text>
<line x1="512.10" y1="193.20" x2="512.10" y2="267.30" stroke="#000" stroke-width="1.05"/>
<line x1="511.60" y1="266.80" x2="621.80" y2="266.80" stroke="#000" stroke-width="1.05"/>
<line x1="509.20" y1="266.80" x2="512.10" y2="266.80" stroke="#000" stroke-width="0.9"/>
<text transform="translate(508.20 268.84) scale(0.05 0.0560)" font-size="106.0" font-weight="bold" text-anchor="end" fill="#111" stroke="#111" stroke-width="4.0">0</text>
<line x1="509.20" y1="252.18" x2="512.10" y2="252.18" stroke="#000" stroke-width="0.9"/>
<text transform="translate(508.20 254.22) scale(0.05 0.0560)" font-size="106.0" font-weight="bold" text-anchor="end" fill="#111" stroke="#111" stroke-width="4.0">20</text>
<line x1="509.20" y1="237.56" x2="512.10" y2="237.56" stroke="#000" stroke-width="0.9"/>
<text transform="translate(508.20 239.60) scale(0.05 0.0560)" font-size="106.0" font-weight="bold" text-anchor="end" fill="#111" stroke="#111" stroke-width="4.0">40</text>
<line x1="509.20" y1="222.94" x2="512.10" y2="222.94" stroke="#000" stroke-width="0.9"/>
<text transform="translate(508.20 224.98) scale(0.05 0.0560)" font-size="106.0" font-weight="bold" text-anchor="end" fill="#111" stroke="#111" stroke-width="4.0">60</text>
<line x1="509.20" y1="208.32" x2="512.10" y2="208.32" stroke="#000" stroke-width="0.9"/>
<text transform="translate(508.20 210.36) scale(0.05 0.0560)" font-size="106.0" font-weight="bold" text-anchor="end" fill="#111" stroke="#111" stroke-width="4.0">80</text>
<line x1="509.20" y1="193.70" x2="512.10" y2="193.70" stroke="#000" stroke-width="0.9"/>
<text transform="translate(508.20 195.74) scale(0.05 0.0560)" font-size="106.0" font-weight="bold" text-anchor="end" fill="#111" stroke="#111" stroke-width="4.0">100</text>
<line x1="516.80" y1="257.37" x2="516.80" y2="252.40" stroke="#2a2a34" stroke-width="0.7"/>
<line x1="515.40" y1="252.40" x2="518.20" y2="252.40" stroke="#2a2a34" stroke-width="0.7"/>
<rect x="515.05" y="257.82" width="3.50" height="8.98" fill="#b7e4aa" stroke="#111" stroke-width="0.9"/>
<line x1="523.40" y1="252.18" x2="523.40" y2="250.50" stroke="#2a2a34" stroke-width="0.7"/>
<line x1="522.00" y1="250.50" x2="524.80" y2="250.50" stroke="#2a2a34" stroke-width="0.7"/>
<rect x="521.65" y="252.63" width="3.50" height="14.17" fill="#55c47a" stroke="#111" stroke-width="0.9"/>
<line x1="520.10" y1="266.80" x2="520.10" y2="269.90" stroke="#000" stroke-width="0.9"/>
<text transform="translate(521.50 274.60) rotate(-45) scale(0.05 0.0540)" font-size="113.0" font-weight="bold" text-anchor="end" fill="#111" stroke="#111" stroke-width="6.0">Control</text>
<line x1="535.32" y1="260.59" x2="535.32" y2="256.27" stroke="#2a2a34" stroke-width="0.7"/>
<line x1="533.92" y1="256.27" x2="536.72" y2="256.27" stroke="#2a2a34" stroke-width="0.7"/>
<rect x="533.57" y="261.04" width="3.50" height="5.76" fill="#b7e4aa" stroke="#111" stroke-width="0.9"/>
<line x1="541.92" y1="249.11" x2="541.92" y2="246.41" stroke="#2a2a34" stroke-width="0.7"/>
<line x1="540.52" y1="246.41" x2="543.32" y2="246.41" stroke="#2a2a34" stroke-width="0.7"/>
<rect x="540.17" y="249.56" width="3.50" height="17.24" fill="#55c47a" stroke="#111" stroke-width="0.9"/>
<line x1="538.62" y1="266.80" x2="538.62" y2="269.90" stroke="#000" stroke-width="0.9"/>
<text transform="translate(540.02 274.60) rotate(-45) scale(0.05 0.0540)" font-size="113.0" font-weight="bold" text-anchor="end" fill="#111" stroke="#111" stroke-width="6.0">ABT199 0.1<tspan font-size="85">µ</tspan>M</text>
<line x1="553.84" y1="257.81" x2="553.84" y2="254.30" stroke="#2a2a34" stroke-width="0.7"/>
<line x1="552.44" y1="254.30" x2="555.24" y2="254.30" stroke="#2a2a34" stroke-width="0.7"/>
<rect x="552.09" y="258.26" width="3.50" height="8.54" fill="#b7e4aa" stroke="#111" stroke-width="0.9"/>
<line x1="560.44" y1="248.89" x2="560.44" y2="247.57" stroke="#2a2a34" stroke-width="0.7"/>
<line x1="559.04" y1="247.57" x2="561.84" y2="247.57" stroke="#2a2a34" stroke-width="0.7"/>
<rect x="558.69" y="249.34" width="3.50" height="17.46" fill="#55c47a" stroke="#111" stroke-width="0.9"/>
<line x1="557.14" y1="266.80" x2="557.14" y2="269.90" stroke="#000" stroke-width="0.9"/>
<text transform="translate(558.54 274.60) rotate(-45) scale(0.05 0.0540)" font-size="113.0" font-weight="bold" text-anchor="end" fill="#111" stroke="#111" stroke-width="6.0">A-133 0.1<tspan font-size="85">µ</tspan>M</text>
<line x1="572.36" y1="257.52" x2="572.36" y2="254.23" stroke="#2a2a34" stroke-width="0.7"/>
<line x1="570.96" y1="254.23" x2="573.76" y2="254.23" stroke="#2a2a34" stroke-width="0.7"/>
<rect x="570.61" y="257.97" width="3.50" height="8.83" fill="#b7e4aa" stroke="#111" stroke-width="0.9"/>
<line x1="578.96" y1="247.50" x2="578.96" y2="243.19" stroke="#2a2a34" stroke-width="0.7"/>
<line x1="577.56" y1="243.19" x2="580.36" y2="243.19" stroke="#2a2a34" stroke-width="0.7"/>
<rect x="577.21" y="247.95" width="3.50" height="18.85" fill="#55c47a" stroke="#111" stroke-width="0.9"/>
<line x1="575.66" y1="266.80" x2="575.66" y2="269.90" stroke="#000" stroke-width="0.9"/>
<text transform="translate(577.06 274.60) rotate(-45) scale(0.05 0.0540)" font-size="113.0" font-weight="bold" text-anchor="end" fill="#111" stroke="#111" stroke-width="6.0">S63845 1<tspan font-size="85">µ</tspan>M</text>
<line x1="590.88" y1="254.23" x2="590.88" y2="251.23" stroke="#2a2a34" stroke-width="0.7"/>
<line x1="589.48" y1="251.23" x2="592.28" y2="251.23" stroke="#2a2a34" stroke-width="0.7"/>
<rect x="589.13" y="254.68" width="3.50" height="12.12" fill="#b7e4aa" stroke="#111" stroke-width="0.9"/>
<line x1="597.48" y1="240.48" x2="597.48" y2="236.46" stroke="#2a2a34" stroke-width="0.7"/>
<line x1="596.08" y1="236.46" x2="598.88" y2="236.46" stroke="#2a2a34" stroke-width="0.7"/>
<rect x="595.73" y="240.93" width="3.50" height="25.87" fill="#55c47a" stroke="#111" stroke-width="0.9"/>
<line x1="594.18" y1="266.80" x2="594.18" y2="269.90" stroke="#000" stroke-width="0.9"/>
<text transform="translate(595.58 274.60) rotate(-45) scale(0.05 0.0540)" font-size="113.0" font-weight="bold" text-anchor="end" fill="#111" stroke="#111" stroke-width="6.0">Navitoclax 1<tspan font-size="85">µ</tspan>M</text>
<line x1="609.40" y1="258.03" x2="609.40" y2="255.03" stroke="#2a2a34" stroke-width="0.7"/>
<line x1="608.00" y1="255.03" x2="610.80" y2="255.03" stroke="#2a2a34" stroke-width="0.7"/>
<rect x="607.65" y="258.48" width="3.50" height="8.32" fill="#b7e4aa" stroke="#111" stroke-width="0.9"/>
<line x1="616.00" y1="237.19" x2="616.00" y2="228.20" stroke="#2a2a34" stroke-width="0.7"/>
<line x1="614.60" y1="228.20" x2="617.40" y2="228.20" stroke="#2a2a34" stroke-width="0.7"/>
<rect x="614.25" y="237.64" width="3.50" height="29.16" fill="#55c47a" stroke="#111" stroke-width="0.9"/>
<line x1="612.70" y1="266.80" x2="612.70" y2="269.90" stroke="#000" stroke-width="0.9"/>
<text transform="translate(614.10 274.60) rotate(-45) scale(0.05 0.0540)" font-size="113.0" font-weight="bold" text-anchor="end" fill="#111" stroke="#111" stroke-width="6.0">DT2216 0.1<tspan font-size="85">µ</tspan>M</text>
<text transform="translate(566.10 184.90) scale(0.05 0.0575)" font-size="142.0" font-weight="bold" text-anchor="middle" fill="#111" stroke="#111" stroke-width="4.0">M16</text>
<text transform="translate(488.80 231.00) rotate(-90) scale(0.05 0.0540)" font-size="121.0" font-weight="bold" text-anchor="middle" fill="#111" stroke="#111" stroke-width="2.4">% Cell death</text>
<line x1="550.80" y1="243.00" x2="560.40" y2="243.00" stroke="#8a8a8a" stroke-width="1.7"/>
<text transform="translate(554.90 242.60) scale(0.05 0.0560)" font-size="110.0" font-weight="bold" text-anchor="middle" fill="#222" stroke="#222" stroke-width="4.0">*</text>
<line x1="587.50" y1="232.50" x2="597.50" y2="232.50" stroke="#222" stroke-width="1.0"/>
<text transform="translate(591.80 232.10) scale(0.05 0.0560)" font-size="110.0" font-weight="bold" text-anchor="middle" fill="#222" stroke="#222" stroke-width="4.0">*</text>
<line x1="607.50" y1="225.70" x2="617.50" y2="225.70" stroke="#222" stroke-width="1.0"/>
<text transform="translate(611.80 225.30) scale(0.05 0.0560)" font-size="110.0" font-weight="bold" text-anchor="middle" fill="#222" stroke="#222" stroke-width="4.0">*</text>
<rect x="638.50" y="197.80" width="7.10" height="3.00" fill="#b7e4aa" stroke="#111" stroke-width="1.0"/>
<text transform="translate(650.00 201.89) scale(0.05 0.0550)" font-size="119.0" font-weight="normal" text-anchor="start" fill="#1a1a1a" stroke="#1a1a1a" stroke-width="2.8">Proliferating</text>
<rect x="638.50" y="207.50" width="7.10" height="3.00" fill="#55c47a" stroke="#111" stroke-width="1.0"/>
<text transform="translate(650.00 211.59) scale(0.05 0.0550)" font-size="119.0" font-weight="normal" text-anchor="start" fill="#1a1a1a" stroke="#1a1a1a" stroke-width="2.8">Senescent-P</text>
</g></svg></body></html>
